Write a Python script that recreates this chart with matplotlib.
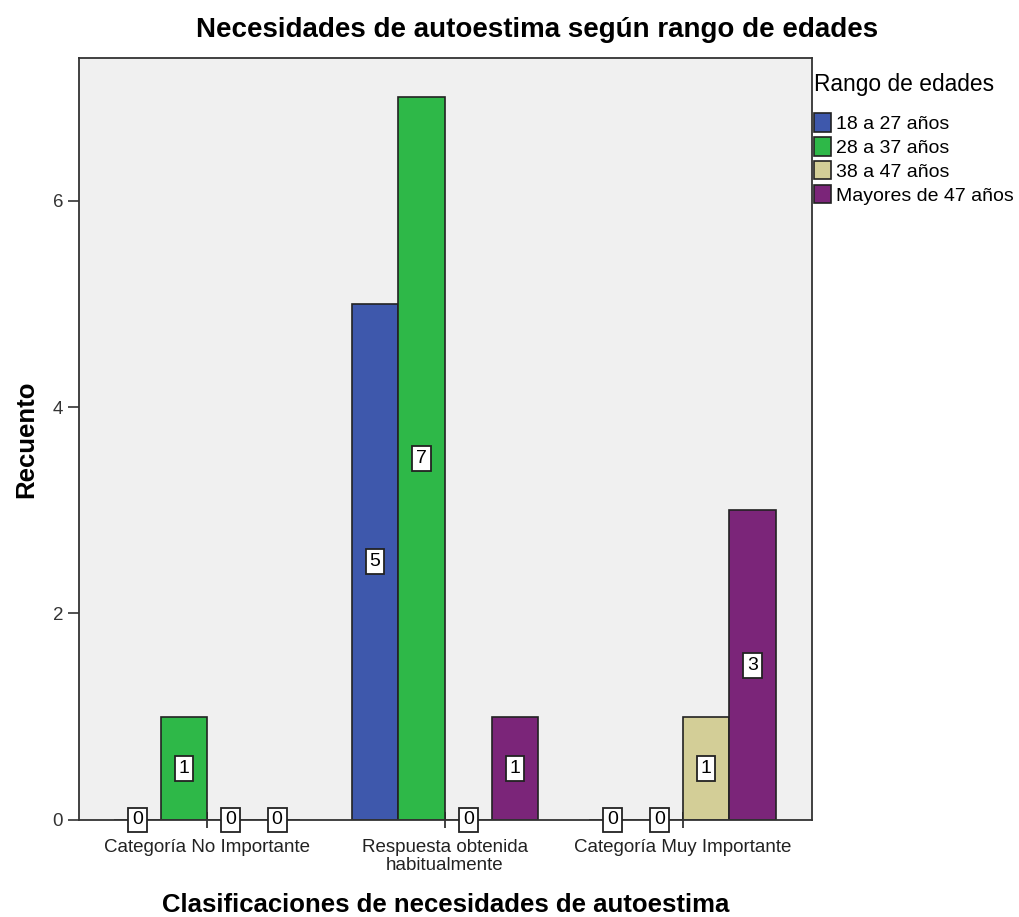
import matplotlib
matplotlib.use("Agg")
import matplotlib.pyplot as plt
import numpy as np
from matplotlib.patches import Patch

plt.rcParams['font.family'] = ['Liberation Sans', 'DejaVu Sans']

categories = ['Categoría No Importante', 'Respuesta obtenida\nhabitualmente', 'Categoría Muy Importante']
series_names = ['18 a 27 años', '28 a 37 años', '38 a 47 años', 'Mayores de 47 años']
counts = [
    [0, 5, 0],   # 18 a 27
    [1, 7, 0],   # 28 a 37
    [0, 0, 1],   # 38 a 47
    [0, 1, 3],   # Mayores de 47
]
colors = ['#3E58AC', '#2EB848', '#D3CE97', '#7B2579']

fig = plt.figure(figsize=(10.19, 9.17), dpi=100)
ax = fig.add_axes([0.0775, 0.1058, 0.7195, 0.8309])
ax.set_facecolor('#F0F0F0')

x = np.arange(len(categories))
w = 0.196
for i, (name, vals) in enumerate(zip(series_names, counts)):
    pos = x + (i - 1.5) * w
    ax.bar(pos, vals, width=w, color=colors[i], edgecolor='#222222', linewidth=1.2, zorder=2)
    for p, v in zip(pos, vals):
        ax.text(p, v / 2, str(v), ha='center', va='center', fontsize=14, zorder=4,
                bbox=dict(boxstyle='square,pad=0.2', fc='white', ec='#222222', lw=1.3))

ax.set_xlim(-0.54, 2.545)
ax.set_ylim(0, 7.38)
ax.set_yticks([0, 2, 4, 6])
ax.set_xticks(x)
ax.set_xticklabels(categories, fontsize=13.5, linespacing=1.05)
ax.tick_params(axis='y', labelsize=13.5, length=8, width=1.2, direction='out', colors='#333333')
ax.tick_params(axis='x', length=12, width=1.2, direction='inout', pad=8, colors='#222222')
for s in ax.spines.values():
    s.set_linewidth(1.3)
    s.set_color('#333333')

ax.set_ylabel('Recuento', fontsize=18.5, fontweight='bold')
ax.yaxis.set_label_coords(-0.056, 0.5)
ax.set_xlabel('Clasificaciones de necesidades de autoestima', fontsize=18.5, fontweight='bold')
ax.xaxis.set_label_coords(0.5, -0.096)
fig.text(0.527, 0.967, 'Necesidades de autoestima según rango de edades', ha='center', va='center',
         fontsize=20, fontweight='bold')

handles = [Patch(facecolor=c, edgecolor='#222222', linewidth=1.2) for c in colors]
leg = fig.legend(handles, series_names, loc='upper left', bbox_to_anchor=(0.797, 0.922),
                 title='Rango de edades', fontsize=14, title_fontsize=16.4, frameon=False,
                 handlelength=0.85, handleheight=1.1, handletextpad=0.3, labelspacing=0.2,
                 borderaxespad=0, borderpad=0.1)
leg._legend_box.align = 'left'
leg._legend_box.sep = 12

fig.savefig('out.png', dpi=100)
